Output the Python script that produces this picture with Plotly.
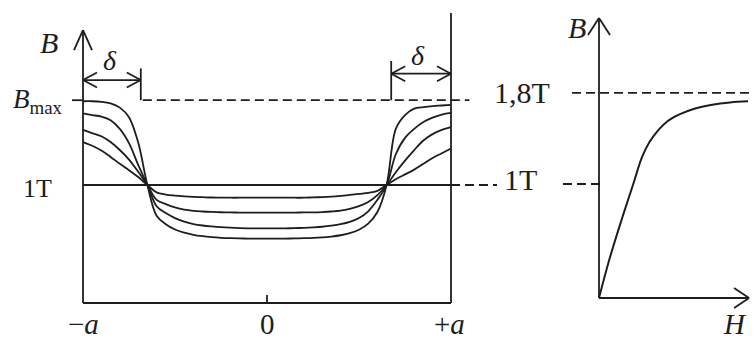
import plotly.graph_objects as go

# ---- flux density across a lamination (-a .. +a), one curve per frequency ----
x_pos = [-1.00, -0.95, -0.90, -0.85, -0.80, -0.75, -0.70, -0.65, -0.60, -0.55, -0.50,
         -0.45, -0.40, -0.35, -0.30, -0.25, -0.20, -0.15, -0.10, -0.05, 0.00,
         0.05, 0.10, 0.15, 0.20, 0.25, 0.30, 0.35, 0.40, 0.45, 0.50,
         0.55, 0.60, 0.65, 0.70, 0.75, 0.80, 0.85, 0.90, 0.95, 1.00]
b_curve1 = [1.79, 1.79, 1.785, 1.77, 1.73, 1.64, 1.40, 1.00, 0.71, 0.63, 0.58,
            0.55, 0.53, 0.517, 0.508, 0.502, 0.498, 0.496, 0.495, 0.495, 0.495,
            0.495, 0.495, 0.496, 0.498, 0.501, 0.506, 0.514, 0.526, 0.545, 0.578,
            0.635, 0.745, 1.00, 1.53, 1.66, 1.72, 1.735, 1.745, 1.75, 1.755]
b_curve2 = [1.675, 1.66, 1.645, 1.61, 1.53, 1.395, 1.19, 1.00, 0.80, 0.735, 0.688,
            0.655, 0.632, 0.618, 0.609, 0.602, 0.597, 0.593, 0.591, 0.59, 0.59,
            0.59, 0.591, 0.593, 0.596, 0.60, 0.606, 0.616, 0.63, 0.652, 0.688,
            0.752, 0.86, 1.00, 1.29, 1.445, 1.53, 1.595, 1.635, 1.665, 1.68]
b_curve3 = [1.52, 1.49, 1.46, 1.405, 1.33, 1.24, 1.125, 1.00, 0.86, 0.82, 0.788,
            0.767, 0.756, 0.75, 0.746, 0.743, 0.741, 0.74, 0.74, 0.74, 0.74,
            0.74, 0.74, 0.74, 0.741, 0.742, 0.745, 0.75, 0.758, 0.775, 0.80,
            0.84, 0.905, 1.00, 1.12, 1.23, 1.33, 1.42, 1.48, 1.52, 1.545]
b_curve4 = [1.405, 1.37, 1.325, 1.265, 1.20, 1.14, 1.075, 1.00, 0.93, 0.91, 0.90,
            0.893, 0.888, 0.885, 0.882, 0.881, 0.88, 0.88, 0.88, 0.88, 0.88,
            0.88, 0.88, 0.88, 0.88, 0.883, 0.886, 0.89, 0.897, 0.906, 0.916,
            0.925, 0.945, 1.00, 1.055, 1.10, 1.145, 1.20, 1.255, 1.30, 1.345]
x_dc = [-1, 1]
b_dc = [1.0, 1.0]

B_MAX = 1.8
B_ONE = 1.0

# ---- magnetisation curve B(H) ----
h_vals = [0, 0.7, 1.6, 2.3, 2.9, 3.4, 3.9, 4.6, 5.4, 6.4, 7.6, 8.8, 10]
b_vals = [0, 0.34, 0.72, 1.00, 1.24, 1.37, 1.46, 1.55, 1.61, 1.66, 1.695, 1.715, 1.725]

# ---- layout frame ----
W, HGT = 753, 342
LX = [-1.4511, 2.6413]
LY = [-0.4811, 2.7453]
RX = [-40.20, 10.336]
RY = [-0.386, 2.614]
INK = "#1e1e1e"
FONT = "Liberation Serif, Times New Roman, serif"

lsx = W / (LX[1] - LX[0])
lsy = HGT / (LY[1] - LY[0])
rsx = W / (RX[1] - RX[0])
rsy = HGT / (RY[1] - RY[0])

B_FLOOR = -0.113     # bottom edge of the lamination box
LEFT_TOP = 2.462     # arrow tip of left B axis
RIGHT_TOP = 2.623    # top of the +a edge line
H_END = 10.07        # tip of the H axis
BH_TOP = 2.456       # tip of the B axis (right)
LY_BOTTOM = LY[0]
RY_BOTTOM = RY[0]

shapes = []


def seg(x0, y0, x1, y1, xref="x", yref="y", dash="solid", width=1.8):
    shapes.append(dict(type="line", x0=x0, y0=y0, x1=x1, y1=y1, xref=xref, yref=yref,
                       line=dict(color=INK, width=width, dash=dash), layer="above"))


def chevron(x, y, direction, sx, sy, xref="x", yref="y", length=15, half=8):
    # open V-shaped arrowhead with its tip at (x, y)
    lx, hy = length / sx, half / sy
    ly, hx = length / sy, half / sx
    if direction == "up":
        pts = [(x - hx, y - ly), (x, y), (x + hx, y - ly)]
    elif direction == "right":
        pts = [(x - lx, y + hy), (x, y), (x - lx, y - hy)]
    else:  # left
        pts = [(x + lx, y + hy), (x, y), (x + lx, y - hy)]
    for (a, b), (c, d) in zip(pts[:-1], pts[1:]):
        seg(a, b, c, d, xref, yref)


DASH = "9px,5px"

# left panel frame
seg(-1, B_FLOOR, -1, LEFT_TOP)
seg(-1, B_FLOOR, 1, B_FLOOR)
seg(1, B_FLOOR, 1, RIGHT_TOP)
seg(0, B_FLOOR, 0, B_FLOOR + 8 / lsy)
chevron(-1, LEFT_TOP, "up", lsx, lsy, length=20, half=9)

# B_max and 1T guides
seg(-0.675, B_MAX, 1.10, B_MAX, dash=DASH)
seg(-1.06, B_MAX, -1.0, B_MAX)
seg(1, B_ONE, 1.25, B_ONE, dash=DASH)

# delta brackets at both surfaces
dl, dr = -0.686, 0.675
seg(dl, B_MAX, dl, 2.10)
seg(-1, 1.99, dl, 1.99)
chevron(-1, 1.99, "left", lsx, lsy, length=14, half=7.5)
chevron(dl, 1.99, "right", lsx, lsy, length=14, half=7.5)
seg(dr, B_MAX, dr, 2.17)
seg(dr, 2.05, 1, 2.05)
chevron(dr, 2.05, "left", lsx, lsy, length=14, half=7.5)
chevron(1, 2.05, "right", lsx, lsy, length=14, half=7.5)

# right panel axes and guides
seg(0, 0, 0, BH_TOP, "x2", "y2")
seg(0, 0, H_END, 0, "x2", "y2")
chevron(0, BH_TOP, "up", rsx, rsy, "x2", "y2", length=17, half=11)
chevron(H_END, 0, "right", rsx, rsy, "x2", "y2", length=15, half=10)
seg(-1.81, B_MAX, RX[1], B_MAX, "x2", "y2", dash=DASH)
seg(-2.42, B_ONE, 0.4, B_ONE, "x2", "y2", dash=DASH)

fig = go.Figure()
for b in (b_curve1, b_curve2, b_curve3, b_curve4):
    fig.add_trace(go.Scatter(x=x_pos, y=b, mode="lines",
                             line=dict(color=INK, width=1.8, shape="spline", smoothing=1.0),
                             hoverinfo="skip", showlegend=False))
fig.add_trace(go.Scatter(x=x_dc, y=b_dc, mode="lines", line=dict(color=INK, width=1.8),
                         hoverinfo="skip", showlegend=False))
fig.add_trace(go.Scatter(x=h_vals, y=b_vals, mode="lines", xaxis="x2", yaxis="y2",
                         line=dict(color=INK, width=2, shape="spline", smoothing=1.0),
                         hoverinfo="skip", showlegend=False))


def label(text, x, y, size, xref="x", yref="y", xanchor="center", yanchor="middle"):
    return dict(text=text, x=x, y=y, xref=xref, yref=yref, showarrow=False,
                xanchor=xanchor, yanchor=yanchor, font=dict(family=FONT, size=size, color=INK))


annotations = [
    label("<i>B</i>", -1.185, 2.34, 30),
    label("<i>δ</i>", -0.853, 2.17, 28),
    label("<i>δ</i>", 0.821, 2.226, 28),
    label("<i>B</i><sub>max</sub>", -1.10, 1.79, 27, xanchor="right"),
    label("1T", -1.155, 0.97, 26, xanchor="right"),
    label("−<i>a</i>", -1.0, LY_BOTTOM, 29, yanchor="bottom"),
    label("0", 0.0, LY_BOTTOM, 29, yanchor="bottom"),
    label("+<i>a</i>", 0.99, LY_BOTTOM, 29, yanchor="bottom"),
    label("<i>B</i>", -1.48, 2.37, 30, "x2", "y2"),
    label("1,8T", -5.17, 1.80, 30, "x2", "y2"),
    label("1T", -5.3, 1.04, 30, "x2", "y2"),
    label("<i>H</i>", 9.13, RY_BOTTOM, 29, "x2", "y2", yanchor="bottom"),
]

hidden = dict(visible=False, showgrid=False, zeroline=False, fixedrange=True)
fig.update_layout(
    width=W, height=HGT,
    margin=dict(l=0, r=0, t=0, b=0),
    paper_bgcolor="white", plot_bgcolor="white",
    xaxis=dict(range=LX, domain=[0, 1], **hidden),
    yaxis=dict(range=LY, domain=[0, 1], **hidden),
    xaxis2=dict(range=RX, domain=[0, 1], overlaying="x", **hidden),
    yaxis2=dict(range=RY, domain=[0, 1], overlaying="y", **hidden),
    shapes=shapes,
    annotations=annotations,
    showlegend=False,
)

fig.write_html("out.html")
